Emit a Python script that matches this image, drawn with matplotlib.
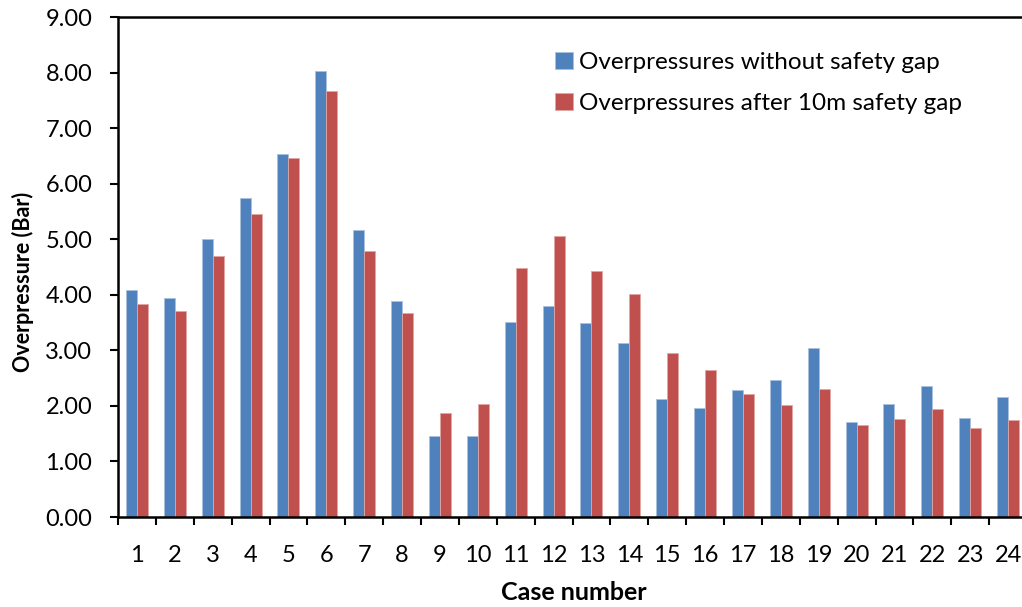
import matplotlib
matplotlib.use("Agg")
import matplotlib.pyplot as plt
import numpy as np

plt.rcParams['font.family'] = ['Lato', 'DejaVu Sans']

cases = [str(i) for i in range(1, 25)]
without_gap = [4.09, 3.95, 5.00, 5.75, 6.53, 8.03, 5.16, 3.89, 1.46, 1.46, 3.51, 3.79,
               3.50, 3.13, 2.13, 1.96, 2.29, 2.46, 3.05, 1.71, 2.03, 2.36, 1.78, 2.16]
with_gap = [3.83, 3.71, 4.70, 5.46, 6.46, 7.67, 4.78, 3.67, 1.88, 2.04, 4.48, 5.06,
            4.42, 4.01, 2.96, 2.65, 2.21, 2.01, 2.30, 1.66, 1.77, 1.95, 1.61, 1.75]
series_labels = ["Overpressures without safety gap", "Overpressures after 10m safety gap"]
yticks = [0, 1, 2, 3, 4, 5, 6, 7, 8, 9]

blue = "#4F81BD"
red = "#C0504D"

W, H = 1022, 607
fig = plt.figure(figsize=(W / 100, H / 100), dpi=100)
left, right, top, bottom = 118, 1027, 17, 517
ax = fig.add_axes([left / W, 1 - bottom / H, (right - left) / W, (bottom - top) / H])

x = np.arange(1, len(cases) + 1)
bw = 0.29
ax.bar(x - bw / 2, without_gap, width=bw, color=blue, edgecolor="#A9C0DE", linewidth=0.6,
       label=series_labels[0], zorder=2)
ax.bar(x + bw / 2, with_gap, width=bw, color=red, edgecolor="#E0A6A4", linewidth=0.6,
       label=series_labels[1], zorder=2)

ax.set_xlim(0.5, len(cases) + 0.5)
ax.set_ylim(0, 9)
ax.set_yticks(yticks)
ax.set_yticklabels([f"{v:.2f}" for v in yticks], fontsize=17)

# category labels centred, tick marks on category boundaries
ax.set_xticks(x)
ax.set_xticklabels(cases, fontsize=17)
ax.tick_params(axis='x', which='major', length=0, pad=20)
ax.set_xticks(np.arange(0.5, len(cases) + 1.0, 1.0), minor=True)
ax.tick_params(axis='x', which='minor', length=5.5, width=1.5, direction='out', color='black')
ax.tick_params(axis='y', length=5.5, width=1.5, direction='out', pad=13)

for s in ['left', 'bottom', 'top']:
    ax.spines[s].set_linewidth(1.8)
ax.spines['right'].set_visible(False)

ax.set_ylabel("Overpressure (Bar)", fontsize=15.5, fontweight='bold', va='center')
ax.yaxis.set_label_coords((23 - left) / (right - left), (bottom - 282) / (bottom - top))
ax.set_xlabel("Case number", fontsize=18, fontweight='bold', va='center')
ax.xaxis.set_label_coords((574 - left) / (right - left), (bottom - 592) / (bottom - top))

leg = ax.legend(loc='upper left', bbox_to_anchor=(555 / W, 1 - 52 / H),
                bbox_transform=fig.transFigure, frameon=False, fontsize=17.5,
                handlelength=0.72, handleheight=0.72, handletextpad=0.27,
                labelspacing=0.82, borderpad=0, borderaxespad=0)

fig.savefig("out.png", dpi=100)
